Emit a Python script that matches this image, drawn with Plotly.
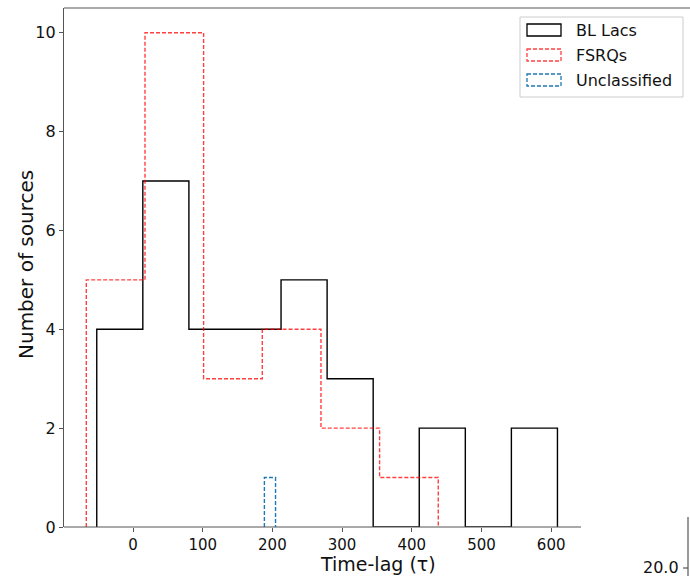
import plotly.graph_objects as go

# ---- data ----
bl_edges = [-52.0, 14.1, 80.2, 146.3, 212.4, 278.5, 344.6, 410.7, 476.8, 542.9, 609.0]
bl_counts = [4, 7, 4, 4, 5, 3, 0, 2, 0, 2]
fsrq_edges = [-67.0, 17.2, 101.3, 185.5, 269.7, 353.8, 438.0]
fsrq_counts = [5, 10, 3, 4, 2, 1]
uncl_edges = [188.5, 204.5]
uncl_counts = [1]
x_ticks = [0, 100, 200, 300, 400, 500, 600]
y_ticks = [0, 2, 4, 6, 8, 10]
labels = ["BL Lacs", "FSRQs", "Unclassified"]

W, H = 690, 576
L, R, T, B = 64, 0, 8, 49
PW, PH = W - L - R, H - T - B
FONT = "DejaVu Sans"


def step_path(edges, counts):
    xs, ys = [edges[0]], [0]
    for i, c in enumerate(counts):
        xs += [edges[i], edges[i + 1]]
        ys += [c, c]
    xs.append(edges[-1])
    ys.append(0)
    return xs, ys


def px(x):
    return (x - L) / PW


def py(y):
    return (H - B - y) / PH


fig = go.Figure()
styles = [
    dict(color="#000000", width=1.4, dash="solid"),
    dict(color="rgba(255,0,0,0.75)", width=1.4, dash="4px,2px"),
    dict(color="#1f77b4", width=1.4, dash="4px,2px"),
]
for (e, c), st, name in zip([(bl_edges, bl_counts), (fsrq_edges, fsrq_counts), (uncl_edges, uncl_counts)], styles, labels):
    xs, ys = step_path(e, c)
    fig.add_trace(go.Scatter(x=xs, y=ys, mode="lines", line=st, name=name, showlegend=False,
                             hoverinfo="skip", cliponaxis=False))

shapes = []
# spines
shapes.append(dict(type="line", xref="paper", yref="paper", x0=0, x1=1, y0=1, y1=1,
                   line=dict(color="#555", width=1.2)))
shapes.append(dict(type="line", xref="paper", yref="paper", x0=0, x1=px(581), y0=0, y1=0,
                   line=dict(color="#555", width=1.2)))
# fragment of neighbouring axis
shapes.append(dict(type="line", xref="paper", yref="paper", x0=px(688), x1=px(688), y0=py(517), y1=py(580),
                   line=dict(color="#555", width=1.2)))
shapes.append(dict(type="line", xref="paper", yref="paper", x0=px(683), x1=px(688), y0=py(568), y1=py(568),
                   line=dict(color="#555", width=1.2)))
# legend box
shapes.append(dict(type="rect", xref="paper", yref="paper", x0=px(520), x1=px(683), y0=py(17), y1=py(97),
                   line=dict(color="#cccccc", width=1), fillcolor="rgba(255,255,255,0.8)", layer="above"))
patch_y = [(24, 36), (49, 61), (74, 86)]
for (y0, y1), st in zip(patch_y, styles):
    shapes.append(dict(type="rect", xref="paper", yref="paper", x0=px(527), x1=px(561), y0=py(y0), y1=py(y1),
                       line=dict(color=st["color"], width=1.3, dash=st["dash"]), fillcolor="rgba(0,0,0,0)",
                       layer="above"))

annotations = []
for (y0, y1), lab in zip(patch_y, labels):
    annotations.append(dict(text=lab, xref="paper", yref="paper", x=px(574), y=py((y0 + y1) / 2),
                            xanchor="left", yanchor="middle", showarrow=False,
                            font=dict(family=FONT, size=16, color="#111")))
annotations.append(dict(text="Time-lag (τ)", xref="paper", yref="paper", x=px(378), y=py(564),
                        xanchor="center", yanchor="middle", showarrow=False,
                        font=dict(family=FONT, size=19, color="#111")))
annotations.append(dict(text="Number of sources", xref="paper", yref="paper", x=px(26), y=py(265),
                        xanchor="center", yanchor="middle", showarrow=False, textangle=-90,
                        font=dict(family=FONT, size=20, color="#111")))
annotations.append(dict(text="20.0", xref="paper", yref="paper", x=px(681), y=py(567),
                        xanchor="right", yanchor="middle", showarrow=False,
                        font=dict(family=FONT, size=16, color="#111")))

x0_val = -99.0
scale = (133 - L) / (0 - x0_val)
x1_val = x0_val + PW / scale

fig.update_layout(
    width=W, height=H,
    margin=dict(l=L, r=R, t=T, b=B, pad=0),
    paper_bgcolor="white", plot_bgcolor="white",
    showlegend=False,
    shapes=shapes, annotations=annotations,
    font=dict(family=FONT, size=16, color="#111"),
    xaxis=dict(range=[x0_val, x1_val], tickvals=x_ticks, ticks="outside", ticklen=4, tickwidth=1,
               tickcolor="#555", showgrid=False, zeroline=False, showline=False,
               tickfont=dict(family=FONT, size=15, color="#111")),
    yaxis=dict(range=[0, 10.5], tickvals=y_ticks, ticks="outside", ticklen=4, tickwidth=1,
               tickcolor="#555", showgrid=False, zeroline=False, showline=True, linecolor="#555",
               linewidth=1.2,
               tickfont=dict(family=FONT, size=16, color="#111")),
)

fig.write_html("out.html")
